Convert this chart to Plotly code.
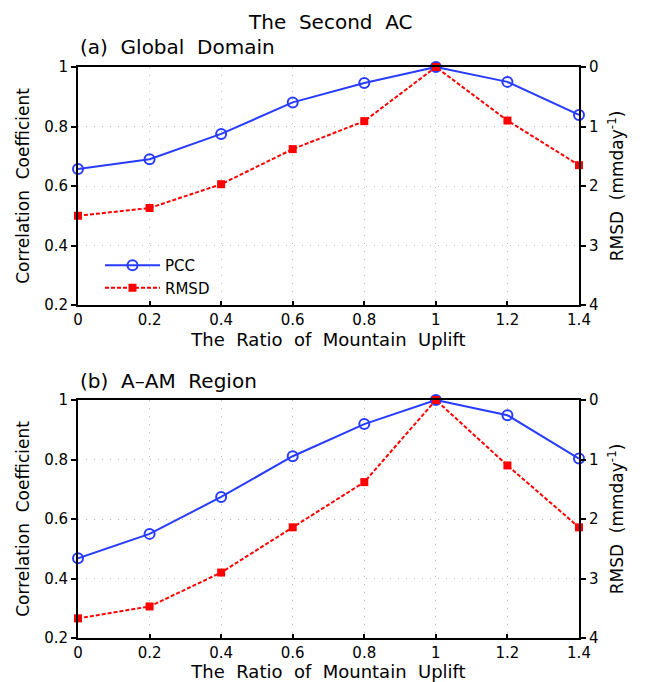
import plotly.graph_objects as go

ratio = [0, 0.2, 0.4, 0.6, 0.8, 1.0, 1.2, 1.4]
pcc_global = [0.657, 0.690, 0.775, 0.881, 0.946, 1.0, 0.950, 0.839]
rmsd_global = [2.50, 2.37, 1.97, 1.38, 0.91, 0.0, 0.90, 1.65]
pcc_aam = [0.468, 0.550, 0.674, 0.811, 0.919, 1.0, 0.949, 0.803]
rmsd_aam = [3.67, 3.47, 2.90, 2.14, 1.38, 0.0, 1.10, 2.14]

x_ticks = [0, 0.2, 0.4, 0.6, 0.8, 1.0, 1.2, 1.4]
x_labels = ["0", "0.2", "0.4", "0.6", "0.8", "1", "1.2", "1.4"]
y_ticks = [0.2, 0.4, 0.6, 0.8, 1.0]
y_labels = ["0.2", "0.4", "0.6", "0.8", "1"]
r_ticks = [0, 1, 2, 3, 4]
r_labels = ["0", "1", "2", "3", "4"]

BLUE = "rgb(40,60,255)"
RED = "rgb(255,0,0)"
FONT = "DejaVu Sans"
NB = "\u00a0"

# page body has an 8px margin; figure size/positions compensate
OFF = 8
W = 653 - OFF
H = 682 - OFF

def px(x):
    return (x - OFF) / W

def py(y):
    return 1 - (y - OFF) / H

fig = go.Figure()

def add_panel(pcc, rmsd, xa, ya, ya2, show):
    fig.add_trace(go.Scatter(
        x=ratio, y=pcc, xaxis=xa, yaxis=ya, name="PCC", mode="lines+markers",
        line=dict(color=BLUE, width=2),
        marker=dict(symbol="circle-open", size=10, color=BLUE, line=dict(width=2, color=BLUE)),
        cliponaxis=False, showlegend=show))
    fig.add_trace(go.Scatter(
        x=ratio, y=rmsd, xaxis=xa, yaxis=ya2, name="RMSD", mode="lines+markers",
        line=dict(color=RED, width=2, dash="4px,2px"),
        marker=dict(symbol="square", size=8, color=RED),
        cliponaxis=False, showlegend=show))

add_panel(pcc_global, rmsd_global, "x", "y", "y2", True)
add_panel(pcc_aam, rmsd_aam, "x2", "y3", "y4", False)

xd = [px(78), px(579)]
dom_a = [py(305), py(67)]
dom_b = [py(638), py(400)]

tickfont = dict(family=FONT, size=15, color="black")
titlefont = dict(family=FONT, size=17, color="black")
GRID = "rgb(190,190,190)"

def xaxis(anchor):
    return dict(domain=xd, anchor=anchor, range=[0, 1.4], tickvals=x_ticks, ticktext=x_labels,
                ticks="inside", ticklen=4, tickwidth=1.5, tickcolor="black",
                showline=True, linecolor="black", linewidth=2, mirror=True,
                showgrid=True, gridcolor=GRID, griddash="1px,7px", gridwidth=1,
                zeroline=False, tickfont=tickfont, automargin=False,
                title=dict(text=(NB * 2).join(["The", "Ratio", "of", "Mountain", "Uplift"]),
                           font=dict(family=FONT, size=18, color="black"), standoff=4))

def yaxis(anchor, dom):
    return dict(domain=dom, anchor=anchor, range=[0.2, 1.0], tickvals=y_ticks, ticktext=y_labels,
                ticks="outside", ticklen=5, tickwidth=1.5, tickcolor="black",
                showline=True, linecolor="black", linewidth=2,
                showgrid=True, gridcolor=GRID, griddash="1px,7px", gridwidth=1,
                zeroline=False, tickfont=tickfont, automargin=False,
                title=dict(text="Correlation" + NB * 2 + "Coefficient", font=titlefont, standoff=10))

def raxis(anchor, over):
    return dict(overlaying=over, side="right", anchor=anchor, range=[4, 0], tickvals=r_ticks, ticktext=r_labels,
                ticks="outside", ticklen=5, tickwidth=1.5, tickcolor="black",
                showline=True, linecolor="black", linewidth=2, showgrid=False, zeroline=False,
                tickfont=tickfont, automargin=False,
                title=dict(text="RMSD" + NB * 2 + "(mmday<sup>-1</sup>)", font=titlefont, standoff=14))

fig.update_layout(
    width=W, height=H,
    margin=dict(l=0, r=0, t=0, b=0),
    paper_bgcolor="white", plot_bgcolor="white",
    font=dict(family=FONT, color="black"),
    xaxis=xaxis("y"),
    yaxis=yaxis("x", dom_a),
    yaxis2=raxis("x", "y"),
    xaxis2=xaxis("y3"),
    yaxis3=yaxis("x2", dom_b),
    yaxis4=raxis("x2", "y3"),
    legend=dict(x=px(100), y=py(249), xanchor="left", yanchor="top",
                bgcolor="rgba(0,0,0,0)", font=dict(family=FONT, size=15, color="black"),
                itemwidth=55, tracegroupgap=0),
    showlegend=True,
    annotations=[
        dict(text="The" + NB * 2 + "Second" + NB * 2 + "AC", x=px(330), y=1.0, xref="paper", yref="paper",
             showarrow=False, font=dict(family=FONT, size=20, color="black"), xanchor="center", yanchor="top"),
        dict(text="(a)" + NB * 2 + "Global" + NB * 2 + "Domain", x=px(78), y=py(47), xref="paper", yref="paper",
             showarrow=False, font=dict(family=FONT, size=20, color="black"), xanchor="left", yanchor="middle"),
        dict(text="(b)" + NB * 2 + "A\u2013AM" + NB * 2 + "Region", x=px(78), y=py(381), xref="paper", yref="paper",
             showarrow=False, font=dict(family=FONT, size=20, color="black"), xanchor="left", yanchor="middle"),
    ],
)

fig.write_html("out.html")
